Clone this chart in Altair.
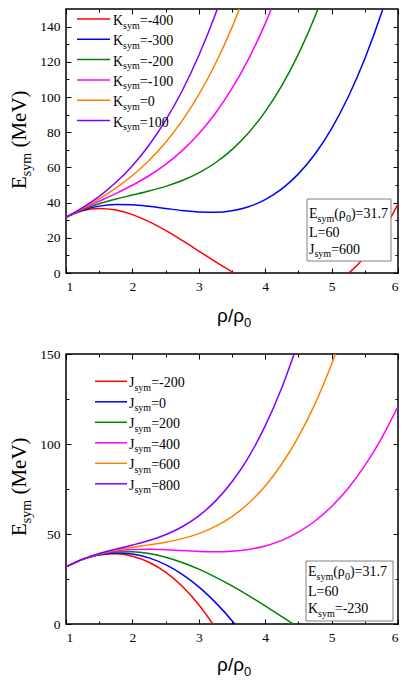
import altair as alt
import pandas as pd

SERIF = "Liberation Serif, Times New Roman, Times, serif"
SANS = "Liberation Sans, Arial, Helvetica, sans-serif"

# density grid rho/rho0
rho = [1.0, 1.25, 1.5, 1.75, 2.0, 2.25, 2.5, 2.75, 3.0, 3.25, 3.5,
       3.75, 4.0, 4.25, 4.5, 4.75, 5.0, 5.25, 5.5, 5.75, 6.0]

# ---- top panel: J_sym = 600, K_sym varies ----
top_names = ["-400", "-300", "-200", "-100", "0", "100"]
k_m400 = [31.7, 35.37, 36.61, 35.76, 33.18, 29.21, 24.2, 18.49, 12.44, 6.39, 0.68,
          -4.33, -8.3, -10.88, -11.73, -10.49, -6.82, -0.37, 9.2, 22.24, 39.11]
k_m300 = [31.7, 35.72, 38.00, 38.89, 38.74, 37.89, 36.7, 35.51, 34.66, 34.51, 35.40,
          37.68, 41.7, 47.80, 56.33, 67.64, 82.07, 99.98, 121.7, 147.59, 177.99]
k_m200 = [31.7, 36.06, 39.39, 42.01, 44.29, 46.57, 49.2, 52.52, 56.89, 62.64, 70.13,
          79.70, 91.7, 106.48, 124.39, 145.76, 170.96]
k_m100 = [31.7, 36.41, 40.77, 45.14, 49.85, 55.25, 61.7, 69.54, 79.11, 90.76, 104.85,
          121.71, 141.7, 165.16]
k_0 = [31.7, 36.76, 42.16, 48.26, 55.40, 63.93, 74.2, 86.55, 101.33, 118.89, 139.57, 163.73]
k_100 = [31.7, 37.11, 43.55, 51.39, 60.96, 72.62, 86.7, 103.56, 123.55, 147.01, 174.29]
top_series = [k_m400, k_m300, k_m200, k_m100, k_0, k_100]

# ---- bottom panel: K_sym = -230, J_sym varies ----
bottom_names = ["-200", "0", "200", "400", "600", "800"]
j_m200 = [31.7, 35.88, 38.36, 38.99, 37.69, 34.32, 28.78, 20.95, 10.71, -2.05]
j_0 = [31.7, 35.90, 38.51, 39.51, 38.92, 36.73, 32.95, 27.57, 20.59, 12.01, 1.84, -9.93]
j_200 = [31.7, 35.92, 38.66, 40.03, 40.15, 39.14, 37.12, 34.19, 30.47, 26.07, 21.13,
         15.75, 10.03, 4.11, -1.90]
j_400 = [31.7, 35.94, 38.82, 40.55, 41.39, 41.55, 41.28, 40.80, 40.34, 40.14, 40.42,
         41.42, 43.37, 46.49, 51.03, 57.22, 65.28, 75.45, 87.95, 103.02, 120.90]
j_600 = [31.7, 35.96, 38.97, 41.07, 42.62, 43.96, 45.45, 47.42, 50.22, 54.20, 59.71,
         67.10, 76.70, 88.87, 103.97, 122.32, 144.29, 170.22]
j_800 = [31.7, 35.98, 39.13, 41.59, 43.86, 46.38, 49.62, 54.04, 60.10, 68.26, 79.00,
         92.77, 110.03, 131.25, 156.90]
bottom_series = [j_m200, j_0, j_200, j_400, j_600, j_800]

colors = ["#FF0000", "#0000FF", "#008000", "#FF00FF", "#FF8000", "#8000FF"]

x_major = [1, 2, 3, 4, 5, 6]
x_minor = [1.5, 2.5, 3.5, 4.5, 5.5]
top_y_major = [0, 20, 40, 60, 80, 100, 120, 140]
top_y_minor = [10, 30, 50, 70, 90, 110, 130]
bot_y_major = [0, 50, 100, 150]
bot_y_minor = [25, 75, 125]

W = 332
one = alt.Data(values=[{"a": 1}])


def long_df(names, series):
    rows = []
    for i, (n, vals) in enumerate(zip(names, series)):
        for r, v in zip(rho, vals):
            rows.append({"rho": r, "E": v, "s": n})
    return pd.DataFrame(rows)


def txt(s, x, y, size, font=SERIF, dx=0, dy=0, align="left", angle=0):
    return alt.Chart(one).mark_text(
        text=s, font=font, fontSize=size, align=align, baseline="alphabetic",
        dx=dx, dy=dy, angle=angle, color="black"
    ).encode(x=alt.value(x), y=alt.value(y))


def tick_axis(orient, vals, size):
    return alt.Axis(orient=orient, values=vals, labels=False, domain=False, grid=False,
                    ticks=True, tickSize=size, offset=-size, tickColor="black",
                    tickWidth=1, title=None)


def panel(names, series, H, ymax, ymaj, ymin, letter, leg, box, boxlines, xtitle_y, ytitle_y):
    df = long_df(names, series)
    xs = alt.Scale(domain=[1, 6], nice=False, zero=False)
    ys = alt.Scale(domain=[0, ymax], nice=False, zero=False)
    base = alt.Chart(df)
    lines = base.mark_line(clip=True, strokeWidth=1.5, interpolate="monotone").encode(
        x=alt.X("rho:Q", scale=xs,
                axis=alt.Axis(orient="bottom", values=x_major, ticks=False, tickSize=0,
                              domain=False, grid=False, labelPadding=6, title=None)),
        y=alt.Y("E:Q", scale=ys,
                axis=alt.Axis(orient="left", values=ymaj, ticks=False, tickSize=0,
                              domain=False, grid=False, labelPadding=6, title=None)),
        color=alt.Color("s:N", scale=alt.Scale(domain=names, range=colors), legend=None),
    )
    layers = [lines]
    for xo, yo, xv, yv, sz in [("bottom", "left", x_major, ymaj, 5),
                               ("bottom", "left", x_minor, ymin, 3),
                               ("top", "right", x_major, ymaj, 5),
                               ("top", "right", x_minor, ymin, 3)]:
        layers.append(base.mark_line(clip=True, opacity=0).encode(
            x=alt.X("rho:Q", scale=xs, axis=tick_axis(xo, xv, sz)),
            y=alt.Y("E:Q", scale=ys, axis=tick_axis(yo, yv, sz)),
            detail="s:N"))

    # legend
    lx0, lx1, tx, y0, step = leg
    wl = {"K": 0.722, "J": 0.389}[letter] * 14
    for i, (n, c) in enumerate(zip(names, colors)):
        yl = y0 + step * i
        layers.append(alt.Chart(one).mark_rule(color=c, strokeWidth=1.5).encode(
            x=alt.value(lx0), x2=alt.value(lx1), y=alt.value(yl)))
        yb = yl + 6
        layers.append(txt(letter, tx, yb, 14))
        layers.append(txt("sym", tx, yb, 10, dx=wl, dy=3.5))
        layers.append(txt("=" + n, tx, yb, 14, dx=wl + 16.7))

    # parameter box
    bx0, bx1, by0, by1, btx = box
    layers.append(alt.Chart(one).mark_rect(fill="white", stroke="#808080", strokeWidth=1).encode(
        x=alt.value(bx0), x2=alt.value(bx1), y=alt.value(by0), y2=alt.value(by1)))
    b1, b2, b3, l3letter, l3val = boxlines
    layers.append(txt("E", btx, b1, 14))
    layers.append(txt("sym", btx, b1, 10, dx=8.55, dy=3.5))
    layers.append(txt("(ρ", btx, b1, 14, dx=25.2))
    layers.append(txt("0", btx, b1, 10, dx=36.9, dy=3.5))
    layers.append(txt(")=31.7", btx, b1, 14, dx=41.9))
    layers.append(txt("L=60", btx, b2, 14))
    w3 = {"K": 0.722, "J": 0.389}[l3letter] * 14
    layers.append(txt(l3letter, btx, b3, 14))
    layers.append(txt("sym", btx, b3, 10, dx=w3, dy=3.5))
    layers.append(txt("=" + l3val, btx, b3, 14, dx=w3 + 16.7))

    # x title  rho/rho0
    layers.append(txt("ρ/ρ", W / 2 + 12, xtitle_y, 19, font=SANS, align="right"))
    layers.append(txt("0", W / 2 + 12, xtitle_y, 13, font=SANS, dy=5))

    # y title  Esym (MeV)
    ax = -40
    layers.append(txt("E", ax, ytitle_y, 21, angle=270))
    layers.append(txt("sym", ax, ytitle_y, 14, dx=12.8, dy=4.5, angle=270))
    layers.append(txt("(MeV)", ax, ytitle_y, 21, dx=41.4, angle=270))

    return alt.layer(*layers).resolve_axis(x="independent", y="independent").properties(
        width=W, height=H)


top = panel(top_names, top_series, 264, 150, top_y_major, top_y_minor, "K",
            (11, 44, 47, 10, 20.3),
            (W - 91, W - 7, 190, 252, W - 89),
            (209, 227.5, 244.5, "J", "600"),
            313, 180)

bottom = panel(bottom_names, bottom_series, 270, 150, bot_y_major, bot_y_minor, "J",
               (29, 61, 63, 27.3, 20.5),
               (W - 92, W - 5, 207, 267, W - 90),
               (222.3, 241.7, 259, "K", "-230"),
               317, 182)

chart = alt.vconcat(top, bottom, spacing=15).resolve_scale(color="independent").properties(
    padding={"left": 0, "top": -1, "right": 0, "bottom": 0},
    background="white",
).configure_view(stroke="black", strokeWidth=1.5).configure_axis(
    labelFont=SERIF, labelFontSize=13.5, labelColor="black"
)

chart.save("out.html", embed_options={"renderer": "svg", "actions": False})
